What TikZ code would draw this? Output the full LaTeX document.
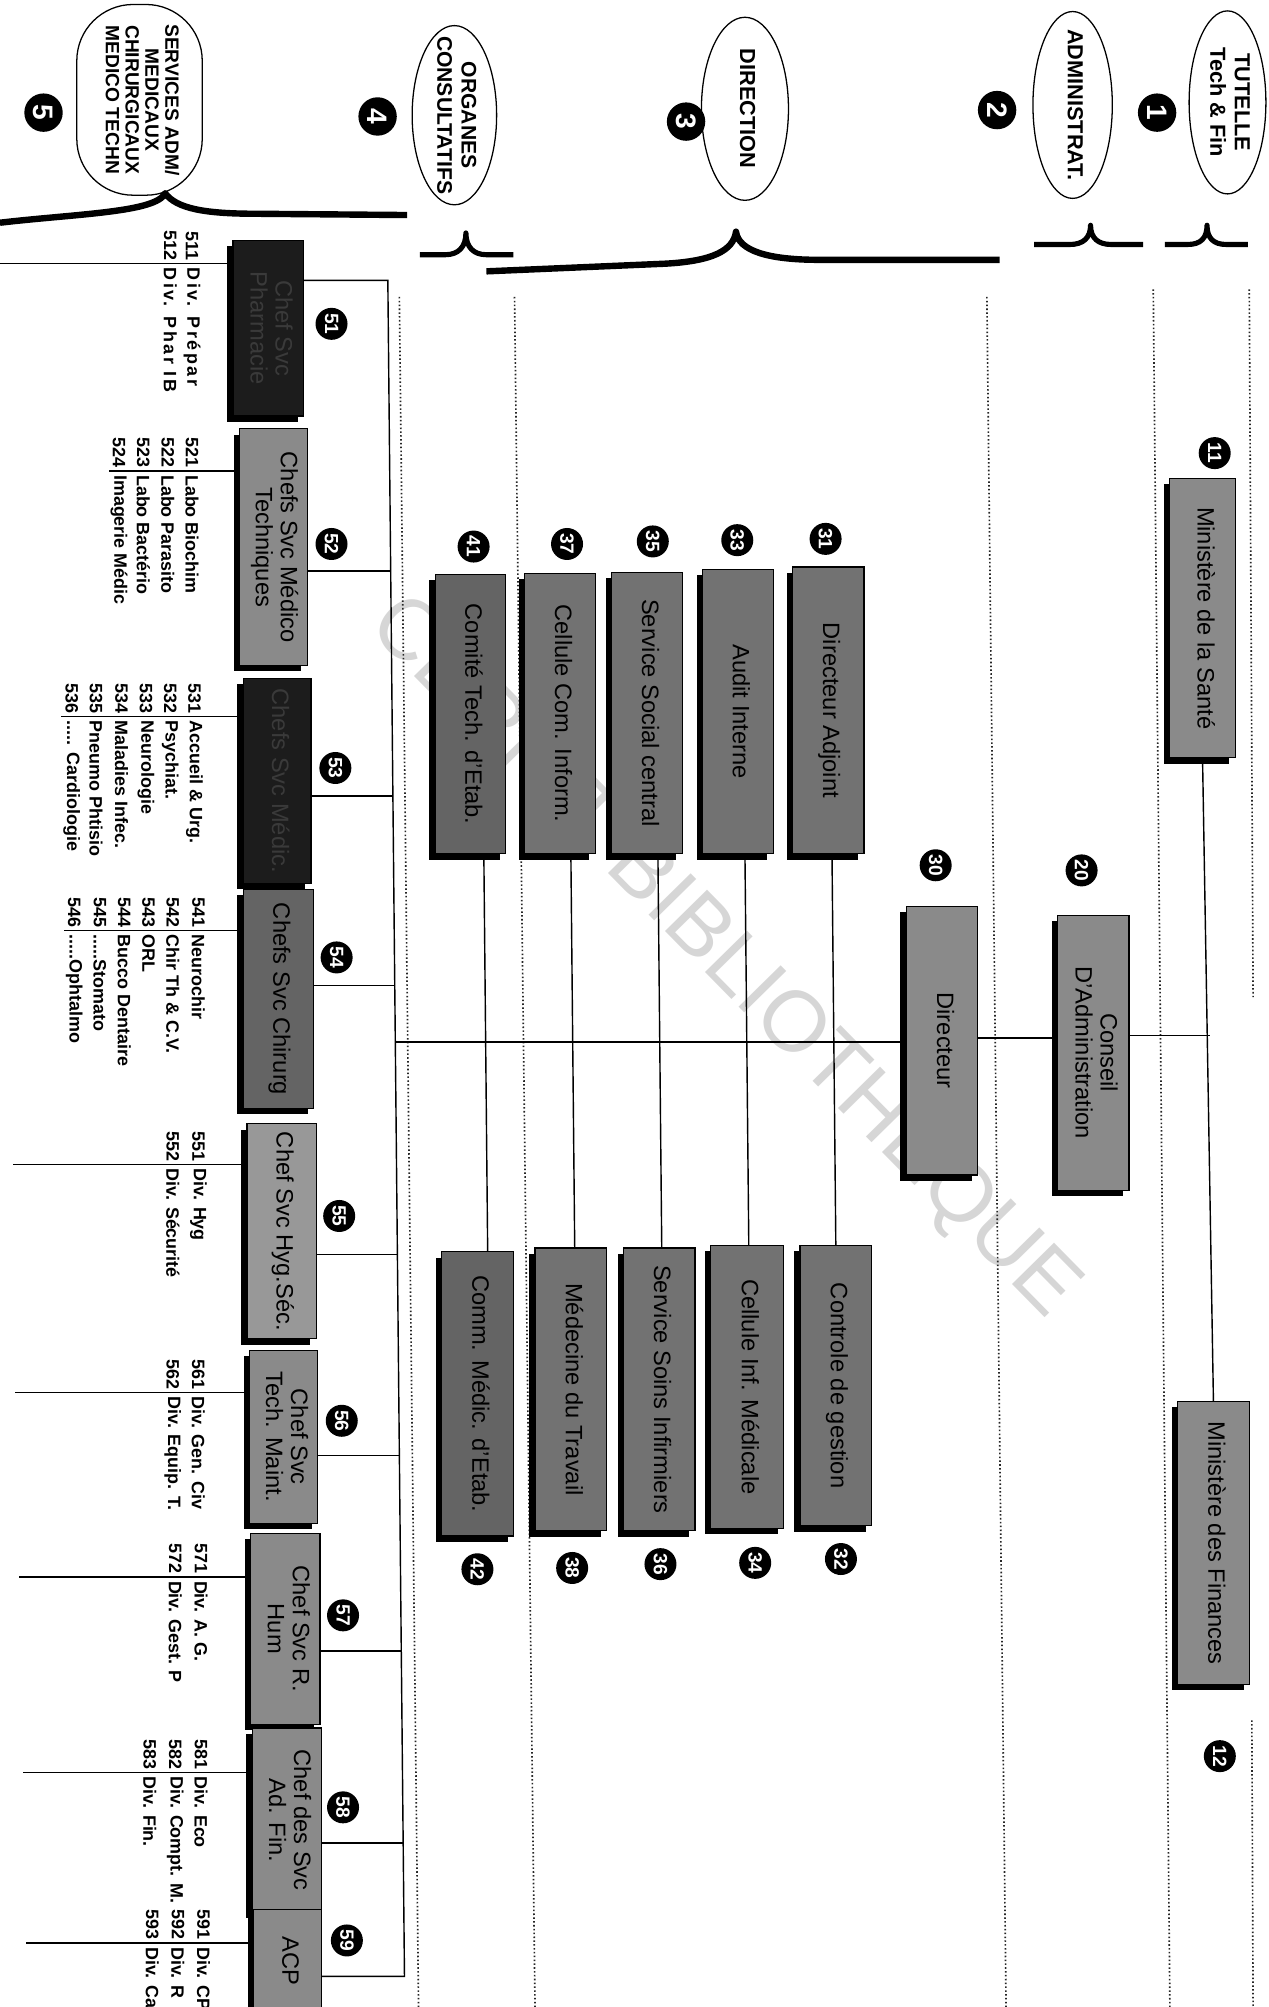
\documentclass[tikz,border=0pt]{standalone}
\usepackage{fontspec}
\setmainfont{Liberation Sans}
\usetikzlibrary{shapes.geometric,shadows}
\definecolor{gA}{HTML}{8A8A8A}
\definecolor{gB}{HTML}{727272}
\definecolor{gC}{HTML}{646464}
\definecolor{gL}{HTML}{989898}
\definecolor{dk}{HTML}{1C1C1C}
\definecolor{dkt}{HTML}{3A3A3A}
\definecolor{wm}{HTML}{D6D6D6}
\newcommand{\rt}[1]{\rotatebox{-90}{\begin{tabular}{@{}c@{}}#1\end{tabular}}}
\newcommand{\obox}[7]{\node[box,#6,minimum width={#3-#2},minimum height={#5-#4}] (#1) at ({(#2+#3)/2},{(#4+#5)/2}) {\rt{#7}};}
\newcommand{\lbl}[5]{\node[labn,anchor=east] (n#1) at ({#2},{#3-2.5}) {#4};\node[labn,anchor=west] (t#1) at ({#2},{#3+3}) {#5};}
\begin{document}
\begin{tikzpicture}[x=1pt,y=-1pt,
  ln/.style={line width=1.1pt,black},
  dots/.style={line width=1.3pt,dash pattern=on 1.2pt off 1.8pt,black!85},
  brc/.style={line width=4.5pt,black,line join=round},
  ell/.style={ellipse,draw,line width=1pt,inner sep=0pt},
  etext/.style={inner sep=0pt,font=\bfseries\fontsize{17}{19}\selectfont},
  box/.style={draw=black,line width=0.9pt,inner sep=0pt,text=black,
     general shadow={fill=black,shadow xshift=-4.5pt,shadow yshift=-4.5pt},
     font=\fontsize{18.5}{19.5}\selectfont},
  nc/.style={circle,fill=black,inner sep=0pt,minimum size=25pt,text=white,rotate=-90,
     font=\bfseries\fontsize{15}{15}\selectfont},
  hc/.style={nc,minimum size=30pt,font=\bfseries\fontsize{22}{22}\selectfont},
  labn/.style={rotate=-90,inner sep=0pt,font=\bfseries\fontsize{14}{14}\selectfont}]
\useasboundingbox (0,0) rectangle (991,1568);
\fill[white] (0,0) rectangle (991,1568);
% watermark
\node[rotate=-45.5,anchor=base west,inner sep=0pt,text=wm,font=\fontsize{67}{67}\selectfont] (wmk) at (286,490) {CERIST BIBLIOTHEQUE};
% dotted separators
\draw[dots] (976,226) -- (979,779);
\draw[dots] (978,1344) -- (979,1568);
\draw[dots] (901,226) -- (914,1568);
\draw[dots] (771,232) -- (786,1568);
\draw[dots] (402,232) -- (418,1568);
\draw[dots] (312,232) -- (327,1568);
% braces
\draw[brc,line width=4pt] (910,191) -- (928,191) .. controls (938,191) and (943,186) .. (943,176) .. controls (943,186) and (948,191) .. (958,191) -- (975,191);
\draw[brc,line width=4pt] (808,191) -- (836,191) .. controls (846,191) and (852,186) .. (852,176) .. controls (852,186) and (858,191) .. (868,191) -- (893,191);
\draw[brc,line width=5pt] (380,212) -- (520,206) .. controls (556,204) and (573,196) .. (575,181) .. controls (577,196) and (600,203) .. (640,203) -- (781,203);
\draw[brc,line width=4pt] (328,199) -- (348,199) .. controls (358,199) and (364,193) .. (364,182) .. controls (364,193) and (370,199) .. (380,199) -- (401,199);
\draw[brc,line width=5pt] (0,174) .. controls (60,167) and (122,166) .. (129,151) .. controls (138,163) and (160,167) .. (200,167) -- (318,168);
% header ellipses
\node[ell,minimum width=60,minimum height=143] (e1) at (959,80) {};
\node[etext] (e1t) at (959,80) {\rt{TUTELLE\\Tech \& Fin}};
\node[ell,minimum width=62,minimum height=146] (e2) at (838,82) {};
\node[etext] (e2t) at (838,82) {\rt{ADMINISTRAT.}};
\node[ell,minimum width=68,minimum height=143] (e3) at (582,85) {};
\node[etext] (e3t) at (582,85) {\rt{DIRECTION}};
\node[ell,minimum width=66,minimum height=140] (e4) at (355,90) {};
\node[etext,font=\bfseries\fontsize{16.5}{19}\selectfont] (e4t) at (355,90) {\rt{ORGANES\\CONSULTATIFS}};
\node[draw,line width=1pt,rounded corners=44pt,minimum width=98,minimum height=149,inner sep=0pt] (e5) at (109,78) {};
\node[etext,font=\bfseries\fontsize{15}{15.5}\selectfont] (e5t) at (109,78) {\rt{SERVICES ADM/\\MEDICAUX\\CHIRURGICAUX\\MEDICO TECHN}};
\node[hc] (h1) at (904,88) {1};
\node[hc] (h2) at (779,86) {2};
\node[hc] (h3) at (536,95) {3};
\node[hc] (h4) at (295,91) {4};
\node[hc] (h5) at (34,88) {5};
% boxes
\obox{b11}{914}{965}{374}{592}{fill=gA}{Ministère de la Santé}
\obox{b12}{920}{976}{1095}{1316}{fill=gA}{Ministère des Finances}
\obox{b20}{826}{882}{715}{930}{fill=gA}{Conseil\\D'Administration}
\obox{b30}{708}{764}{708}{918}{fill=gA}{Directeur}
\obox{b31}{619}{675}{443}{667}{fill=gB}{Directeur Adjoint}
\obox{b33}{549}{604}{445}{667}{fill=gB}{Audit Interne}
\obox{b35}{478}{533}{447}{667}{fill=gB}{Service Social central}
\obox{b37}{410}{465}{448}{667}{fill=gB}{Cellule Com. Inform.}
\obox{b41}{340}{395}{449}{667}{fill=gC}{Comité Tech. d'Etab.}
\obox{b32}{625}{681}{973}{1192}{fill=gB}{Controle de gestion}
\obox{b34}{555}{612}{973}{1194}{fill=gB}{Cellule Inf. Médicale}
\obox{b36}{487}{543}{975}{1196}{fill=gB}{Service Soins Infirmiers}
\obox{b38}{418}{474}{975}{1196}{fill=gB}{Médecine du Travail}
\obox{b42}{345}{401}{978}{1200}{fill=gC}{Comm. Médic. d'Etab.}
\obox{b51}{182}{237}{188}{325}{fill=dk,text=dkt}{Chef Svc\\Pharmacie}
\obox{b52}{187}{240}{335}{520}{fill=gA}{Chefs Svc Médico\\Techniques}
\obox{b53}{190}{243}{530}{690}{fill=dk,text=dkt}{Chefs Svc Médic.}
\obox{b54}{190}{245}{695}{866}{fill=gC}{Chefs Svc Chirurg}
\obox{b55}{193}{247}{878}{1046}{fill=gL}{Chef Svc Hyg.Séc.}
\obox{b56}{195}{248}{1055}{1190}{fill=gA}{Chef Svc\\Tech. Maint.}
\obox{b57}{196}{250}{1198}{1347}{fill=gA}{Chef Svc R.\\Hum}
\obox{b58}{197}{251}{1350}{1494}{fill=gA}{Chef des Svc\\Ad. Fin.}
\obox{b59}{198}{251}{1492}{1572}{fill=gA}{ACP}
% connectors: tutelle / administration / direction
\draw[ln] (b11.south) -- (b12.north);
\coordinate (j1) at (945,809);
\draw[ln] (b20.east |- j1) -- (j1);
\draw[ln] (b20.west |- 0,811) -- (b30.east |- 0,811);
\coordinate (j30) at (308.8,814);
\draw[ln] (b30.west |- j30) -- (j30);
\draw[ln] (650,0 |- b31.south) -- (653,0 |- b32.north);
\draw[ln] (582,0 |- b33.south) -- (585,0 |- b34.north);
\draw[ln] (514,0 |- b35.south) -- (517,0 |- b36.north);
\draw[ln] (446,0 |- b37.south) -- (449,0 |- b38.north);
\draw[ln] (378,0 |- b41.south) -- (381,0 |- b42.north);
% trunk of services
\coordinate (tt) at (303,219);
\coordinate (tb) at (316,1544);
\draw[ln] (b51.east |- tt) -- (tt) -- (tb) -- (b59.east |- tb);
\coordinate (j52) at (305.2,446); \draw[ln] (b52.east |- j52) -- (j52);
\coordinate (j53) at (307,622);   \draw[ln] (b53.east |- j53) -- (j53);
\coordinate (j54) at (308.4,770); \draw[ln] (b54.east |- j54) -- (j54);
\coordinate (j55) at (310.5,980); \draw[ln] (b55.east |- j55) -- (j55);
\coordinate (j56) at (312,1137);  \draw[ln] (b56.east |- j56) -- (j56);
\coordinate (j57) at (313.5,1290);\draw[ln] (b57.east |- j57) -- (j57);
\coordinate (j58) at (315,1440);  \draw[ln] (b58.east |- j58) -- (j58);
% left rules
\coordinate (k51) at (0,206);   \draw[ln] (b51.west |- k51) -- (k51);
\coordinate (k52) at (85,368);  \draw[ln] (b52.west |- k52) -- (k52);
\coordinate (k53) at (48,560);  \draw[ln] (b53.west |- k53) -- (k53);
\coordinate (k54) at (50,727);  \draw[ln] (b54.west |- k54) -- (k54);
\coordinate (k55) at (10,910);  \draw[ln] (b55.west |- k55) -- (k55);
\coordinate (k56) at (12,1088); \draw[ln] (b56.west |- k56) -- (k56);
\coordinate (k57) at (15,1232); \draw[ln] (b57.west |- k57) -- (k57);
\coordinate (k58) at (18,1385); \draw[ln] (b58.west |- k58) -- (k58);
\coordinate (k59) at (20,1518); \draw[ln] (b59.west |- k59) -- (k59);
% number circles
\node[nc] (c11) at (949,354) {11};
\node[nc] (c12) at (953,1372) {12};
\node[nc] (c20) at (845,680) {20};
\node[nc] (c30) at (731,676) {30};
\node[nc] (c31) at (645,421) {31};
\node[nc] (c33) at (576,422) {33};
\node[nc] (c35) at (510,423) {35};
\node[nc] (c37) at (443,425) {37};
\node[nc] (c41) at (370,427) {41};
\node[nc] (c32) at (657,1218) {32};
\node[nc] (c34) at (590,1221) {34};
\node[nc] (c36) at (516,1222) {36};
\node[nc] (c38) at (447,1225) {38};
\node[nc] (c42) at (373,1226) {42};
\node[nc] (c51) at (259,253) {51};
\node[nc] (c52) at (259,425) {52};
\node[nc] (c53) at (262,600) {53};
\node[nc] (c54) at (263,748) {54};
\node[nc] (c55) at (265,950) {55};
\node[nc] (c56) at (267,1110) {56};
\node[nc] (c57) at (268,1262) {57};
\node[nc] (c58) at (268,1412) {58};
\node[nc] (c59) at (271,1516) {59};
% division labels
\lbl{511}{150}{206}{511}{\addfontfeature{LetterSpace=14}Div. Prépar}
\lbl{512}{133}{206}{512}{\addfontfeature{LetterSpace=14}Div. Phar IB}
\lbl{521}{150}{368}{521}{Labo Biochim}
\lbl{522}{131}{368}{522}{Labo Parasito}
\lbl{523}{112}{368}{523}{Labo Bactério}
\lbl{524}{93}{368}{524}{Imagerie Médic}
\lbl{531}{152}{560}{531}{Accueil \& Urg.}
\lbl{532}{133}{560}{532}{Psychiat.}
\lbl{533}{114}{560}{533}{Neurologie}
\lbl{534}{95}{560}{534}{Maladies Infec.}
\lbl{535}{75}{560}{535}{Pneumo Phtisio}
\lbl{536}{56}{560}{536}{..... Cardiologie}
\lbl{541}{155}{727}{541}{Neurochir}
\lbl{542}{135}{727}{542}{Chir Th \& C.V.}
\lbl{543}{116}{727}{543}{ORL}
\lbl{544}{97}{727}{544}{Bucco Dentaire}
\lbl{545}{78}{727}{545}{.....Stomato}
\lbl{546}{58}{727}{546}{.....Ophtalmo}
\lbl{551}{155}{910}{551}{Div. Hyg}
\lbl{552}{135}{910}{552}{Div. Sécurité}
\lbl{561}{155}{1088}{561}{Div. Gen. Civ}
\lbl{562}{135}{1088}{562}{Div. Equip. T.}
\lbl{571}{157}{1232}{571}{Div. A. G.}
\lbl{572}{137}{1232}{572}{Div. Gest. P}
\lbl{581}{157}{1385}{581}{Div. Eco}
\lbl{582}{137}{1385}{582}{Div. Compt. M.}
\lbl{583}{117}{1385}{583}{Div. Fin.}
\lbl{591}{159}{1518}{591}{Div. CP}
\lbl{592}{139}{1518}{592}{Div. R}
\lbl{593}{119}{1518}{593}{Div. Ca}
\end{tikzpicture}
\end{document}
